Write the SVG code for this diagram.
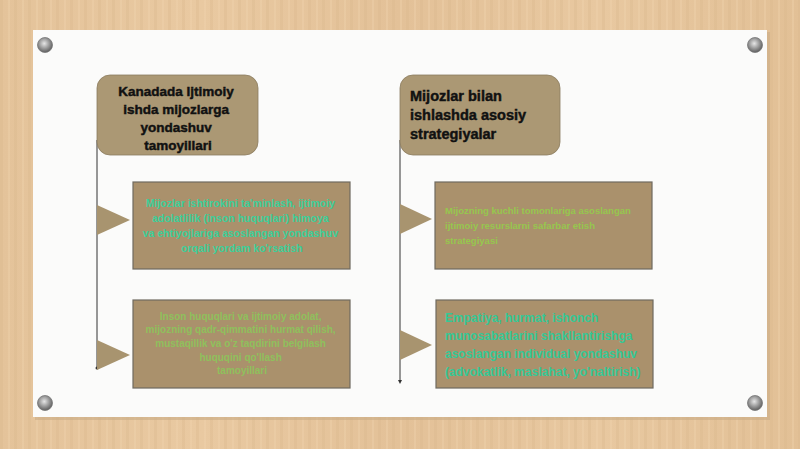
<svg xmlns="http://www.w3.org/2000/svg" width="800" height="449" viewBox="0 0 800 449">
<defs>
<style>
.hdr{fill:#ab9874;stroke:#8c7c60;stroke-width:0.8}
.box{fill:#aa916c;stroke:#6f6a60;stroke-width:1.2}
.tri{fill:#a8946f}
.ht{font-family:"Liberation Sans",Arial,sans-serif;font-weight:bold;font-size:13.5px;fill:#111;stroke:#111;stroke-width:0.45}
.t{font-family:"Liberation Sans",Arial,sans-serif;font-weight:bold}
.pin{stroke:#777;stroke-width:0.8}
.line{stroke:#333;stroke-width:1;fill:none}
</style>
<linearGradient id="wood" x1="0" y1="0" x2="1" y2="0">
<stop offset="0" stop-color="#e4c39a"/>
<stop offset="0.25" stop-color="#e9c9a1"/>
<stop offset="0.5" stop-color="#e3c198"/>
<stop offset="0.75" stop-color="#e8c8a0"/>
<stop offset="1" stop-color="#e2c096"/>
</linearGradient>
<pattern id="stripes" width="14" height="449" patternUnits="userSpaceOnUse">
<rect x="0" width="3" height="449" fill="#d9b68b" opacity="0.35"/>
<rect x="8" width="2" height="449" fill="#f0d3ad" opacity="0.35"/>
</pattern>
<radialGradient id="pinG" cx="0.45" cy="0.4" r="0.6">
<stop offset="0" stop-color="#e6e6e6"/>
<stop offset="0.55" stop-color="#9a9a9a"/>
<stop offset="1" stop-color="#5e5e5e"/>
</radialGradient>
<marker id="arr" viewBox="0 0 6 6" refX="3" refY="3" markerWidth="4" markerHeight="4" orient="auto">
<path d="M0,0 L6,3 L0,6 z" fill="#333"/>
</marker>
</defs>

<rect width="800" height="449" fill="url(#wood)"/>
<rect width="800" height="449" fill="url(#stripes)"/>

<g id="board">
<rect x="35" y="32" width="735" height="388" fill="#c9ab85" opacity="0.6"/>
<rect x="33" y="30" width="734" height="387" fill="#fbfbfa"/>
</g>

<g id="pins">
<circle class="pin" cx="45" cy="45" r="7.5" fill="url(#pinG)"/>
<circle class="pin" cx="755" cy="45" r="7.5" fill="url(#pinG)"/>
<circle class="pin" cx="45" cy="403" r="7.5" fill="url(#pinG)"/>
<circle class="pin" cx="755" cy="403" r="7.5" fill="url(#pinG)"/>
</g>

<g id="connectors">
<line class="line" x1="97" y1="140" x2="97" y2="368"/>
<circle cx="97" cy="368" r="1.5" fill="#333"/>
<line class="line" x1="400" y1="140" x2="400" y2="382" marker-end="url(#arr)"/>
<polygon class="tri" points="97,205 130,220 97,235"/>
<polygon class="tri" points="97,340 130,355 97,370"/>
<polygon class="tri" points="400,204 432,219 400,234"/>
<polygon class="tri" points="400,330 432,345 400,360"/>
</g>

<g id="header-left">
<rect class="hdr" x="97" y="75" width="161" height="80" rx="13"/>
<text class="ht" text-anchor="middle">
<tspan x="178" y="96">Kanadada Ijtimoiy</tspan>
<tspan x="178" y="114">ishda mijozlarga</tspan>
<tspan x="178" y="132">yondashuv</tspan>
<tspan x="178" y="150">tamoyillari</tspan>
</text>
</g>

<g id="header-right">
<rect class="hdr" x="400" y="75" width="160" height="80" rx="13"/>
<text class="ht" style="font-size:14.5px">
<tspan x="410" y="101">Mijozlar bilan</tspan>
<tspan x="410" y="120">ishlashda asosiy</tspan>
<tspan x="410" y="139">strategiyalar</tspan>
</text>
</g>

<g id="box-left-top">
<rect class="box" x="133" y="182" width="217" height="87"/>
<text class="t" text-anchor="middle" font-size="10.5" fill="#3ccf9a">
<tspan x="242" y="207">Mijozlar ishtirokini ta'minlash, ijtimoiy</tspan>
<tspan x="242" y="222">adolatlilik (inson huquqlari) himoya</tspan>
<tspan x="242" y="237">va ehtiyojlariga asoslangan yondashuv</tspan>
<tspan x="242" y="252">orqali yordam ko'rsatish</tspan>
</text>
</g>

<g id="box-left-bottom">
<rect class="box" x="133" y="300" width="217" height="88"/>
<text class="t" text-anchor="middle" font-size="10" fill="#8fc05c">
<tspan x="242" y="320">Inson huquqlari va ijtimoiy adolat,</tspan>
<tspan x="242" y="333">mijozning qadr-qimmatini hurmat qilish,</tspan>
<tspan x="242" y="347">mustaqillik va o'z taqdirini belgilash</tspan>
<tspan x="242" y="361">huquqini qo'llash</tspan>
<tspan x="242" y="374">tamoyillari</tspan>
</text>
</g>

<g id="box-right-top">
<rect class="box" x="435" y="182" width="217" height="87"/>
<text class="t" font-size="9.5" fill="#96c74e">
<tspan x="445" y="214">Mijozning kuchli tomonlariga asoslangan</tspan>
<tspan x="445" y="229">ijtimoiy resurslarni safarbar etish</tspan>
<tspan x="445" y="244">strategiyasi</tspan>
</text>
</g>

<g id="box-right-bottom">
<rect class="box" x="436" y="300" width="217" height="88"/>
<text class="t" font-size="12" fill="#35c896">
<tspan x="445" y="322">Empatiya, hurmat, ishonch</tspan>
<tspan x="445" y="340">munosabatlarini shakllantirishga</tspan>
<tspan x="445" y="358">asoslangan individual yondashuv</tspan>
<tspan x="445" y="376">(advokatlik, maslahat, yo'naltirish)</tspan>
</text>
</g>
</svg>
